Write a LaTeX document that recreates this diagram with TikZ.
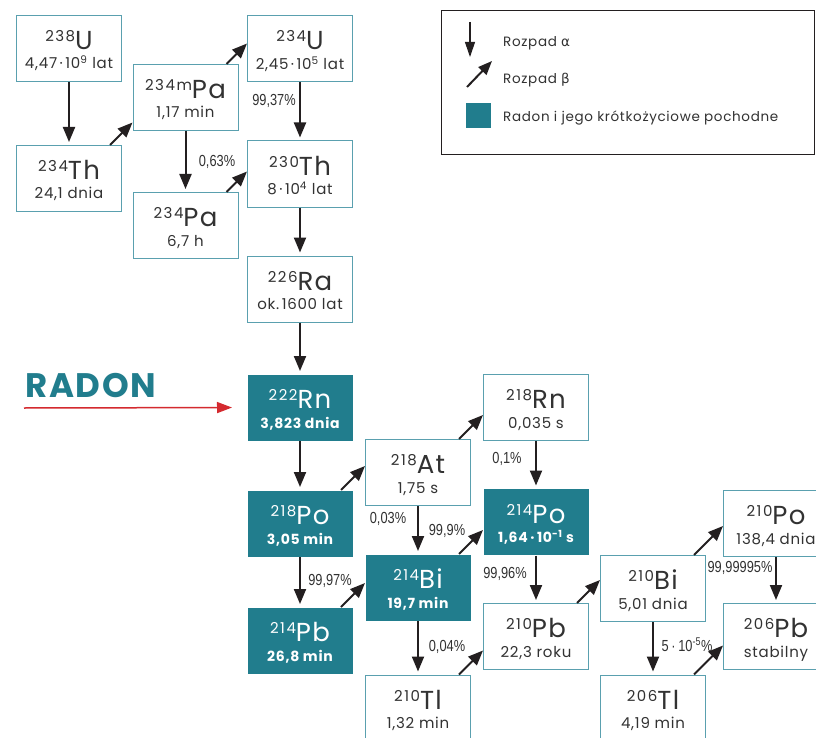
\documentclass[tikz,border=0pt]{standalone}
\usepackage{fontspec}
\setmainfont[LetterSpace=5]{Poppins}
\newfontfamily\grk{DejaVu Sans}
\newfontfamily\narrow[FakeStretch=0.8]{Liberation Sans}
\usepackage{tikz}
\usetikzlibrary{arrows.meta, calc, positioning}

\definecolor{radon}{RGB}{33,125,141}
\definecolor{boxline}{RGB}{90,160,175}
\definecolor{txt}{RGB}{50,50,50}
\definecolor{arr}{RGB}{35,31,32}
\definecolor{radred}{RGB}{212,42,47}

\newcommand{\nuc}[3]{\rule{0pt}{25.5pt}{\fontsize{15}{15}\selectfont\addfontfeature{LetterSpace=10}\raisebox{8pt}{#1}}{\fontsize{26}{26}\selectfont #2}\\#3\rule[-4pt]{0pt}{0pt}}
\newcommand{\hb}[1]{{\fontsize{14}{19.5}\selectfont\bfseries #1}}
\newcommand{\md}{\hspace{2.5pt}·\hspace{2.5pt}}
\newcommand{\bdraw}[2]{\draw[bdecay] let \p1=(#1.north east), \p2=(#2.west) in ({\x1-12pt},\y1) -- (\x2,{\y1+\x2-\x1+12pt});}

\tikzset{
    iso/.style={draw=boxline, line width=1pt, fill=white, text=txt, minimum width=105pt, minimum height=66pt,
        inner sep=0pt, align=center, font=\fontsize{15}{19.5}\selectfont},
    rad/.style={iso, draw=none, fill=radon, text=white},
    adecay/.style={draw=arr, line width=2pt, -{Triangle[length=15pt,width=12pt]}, shorten >=3pt},
    bdecay/.style={draw=arr, line width=2pt, -{Triangle[length=15pt,width=12pt]}},
    pct/.style={text=txt, inner sep=0pt, font=\narrow\fontsize{16}{16}\selectfont},
    legtxt/.style={text=txt, inner sep=0pt, anchor=base west, font=\fontsize{13.5}{13.5}\selectfont},
}

\begin{document}
\begin{tikzpicture}[x=1pt, y=-1pt]
    \clip (0,0) rectangle (816,738);
    \fill[white] (0,0) rectangle (816,738);

    % uran
    \node[iso] (u238) at (69,48.5) {\nuc{238}{U}{4,47\md10\textsuperscript{9} lat}};
    \node[iso] (th234) at (69,178.5) {\nuc{234}{Th}{24,1 dnia}};
    \node[iso] (pa234m) at (185.5,97.5) {\nuc{234m}{Pa}{1,17 min}};
    \node[iso] (pa234) at (185.5,225.5) {\nuc{234}{Pa}{6,7 h}};
    \node[iso] (u234) at (300,49) {\nuc{234}{U}{2,45\md10\textsuperscript{5} lat}};
    \node[iso] (th230) at (300,174) {\nuc{230}{Th}{8\md10\textsuperscript{4} lat}};
    \node[iso] (ra226) at (300,289) {\nuc{226}{Ra}{ok.\,1600 lat}};

    % radon
    \node[rad] (rn222) at (300,407.5) {\nuc{222}{Rn}{\hb{3,823 dnia}}};
    \node[rad] (po218) at (300,523.5) {\nuc{218}{Po}{\hb{3,05 min}}};
    \node[rad] (pb214) at (300,640.5) {\nuc{214}{Pb}{\hb{26,8 min}}};
    \node[iso] (at218) at (418,472.5) {\nuc{218}{At}{1,75 s}};
    \node[rad] (bi214) at (418,587.5) {\nuc{214}{Bi}{\hb{19,7 min}}};
    \node[iso] (tl210) at (418,708) {\nuc{210}{Tl}{1,32 min}};
    \node[iso] (rn218) at (536,407.5) {\nuc{218}{Rn}{0,035 s}};
    \node[rad] (po214) at (536,522) {\nuc{214}{Po}{\hb{1,64\md10\textsuperscript{-1} s}}};
    \node[iso] (pb210) at (536,636.5) {\nuc{210}{Pb}{22,3 roku}};
    \node[iso] (bi210) at (653,588.5) {\nuc{210}{Bi}{5,01 dnia}};
    \node[iso] (tl206) at (653,708) {\nuc{206}{Tl}{4,19 min}};
    \node[iso] (po210) at (776,523.5) {\nuc{210}{Po}{138,4 dnia}};
    \node[iso] (pb206) at (776,636.5) {\nuc{206}{Pb}{stabilny}};

    % rozpad alfa
    \foreach \a/\b in {u238/th234, pa234m/pa234, u234/th230, th230/ra226, ra226/rn222, rn222/po218,
        po218/pb214, at218/bi214, bi214/tl210, rn218/po214, po214/pb210, bi210/tl206, po210/pb206}
        \draw[adecay] (\a.south) -- (\a.south |- \b.north);

    % rozpad beta
    \foreach \a/\b in {th234/pa234m, pa234m/u234, pa234/th230, po218/at218, pb214/bi214, at218/rn218,
        bi214/po214, tl210/pb210, pb210/bi210, bi210/po210, tl206/pb206}
        {\bdraw{\a}{\b}}

    % procenty
    \node[pct] (pu234) at (274,101) {99,37\%};
    \node[pct] (ppa234) at (217,162) {0,63\%};
    \node[pct] (prn218) at (507,459) {0,1\%};
    \node[pct] (pat218) at (388,519) {0,03\%};
    \node[pct] (pbi214) at (447,531) {99,9\%};
    \node[pct] (ppb214) at (330,581) {99,97\%};
    \node[pct] (ppb210) at (505,574) {99,96\%};
    \node[pct] (ptl210) at (447,647) {0,04\%};
    \node[pct] (ppb206) at (740,568) {99,99995\%};
    \node[pct] (ptl206) at (687,645) {5\,·\,10\textsuperscript{-5}\%};

    % RADON
    \node[text=radon, inner sep=0pt, anchor=base west, font=\bfseries\fontsize{34}{34}\selectfont] (radonlbl) at (25,397) {RADON};
    \coordinate (radstart) at (24,408);
    \draw[radred, line width=1.5pt, -{Triangle[length=15pt,width=11pt]}, shorten >=15pt] (radstart) -- (rn222.west);

    % legenda
    \node[draw=arr, line width=0.9pt, minimum width=373pt, minimum height=144pt, inner sep=0pt] (legend) at (627.5,82) {};
    \coordinate (la1) at (470,22);
    \coordinate (la2) at (470,57);
    \coordinate (lb1) at (467,87);
    \coordinate (lb2) at (492,61);
    \draw[arr, line width=1.1pt, -{Triangle[length=15pt,width=10pt]}] (la1) -- (la2);
    \draw[arr, line width=2pt, -{Triangle[length=14pt,width=11pt]}] (lb1) -- (lb2);
    \node[fill=radon, minimum size=25pt, inner sep=0pt] (lsq) at (478.5,115.5) {};
    \node[legtxt] (lalfa) at (503,47) {Rozpad {\grk α}};
    \node[legtxt] (lbeta) at (503,84) {Rozpad {\grk β}};
    \node[legtxt] (lradon) at (503,122) {Radon i jego krótkożyciowe pochodne};
\end{tikzpicture}
\end{document}
